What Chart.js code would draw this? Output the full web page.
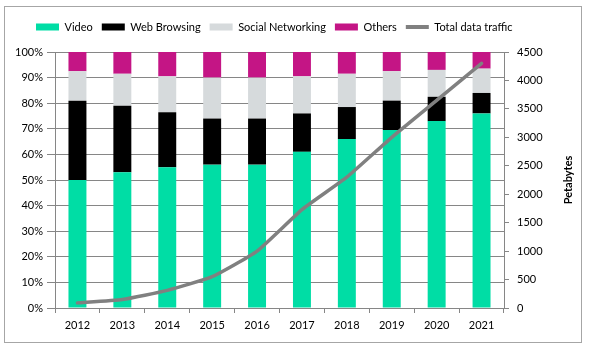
<!DOCTYPE html>
<html>
<head>
<meta charset="utf-8">
<title>Mobile data traffic by application</title>
<script src="https://cdn.jsdelivr.net/npm/chart.js@4/dist/chart.umd.min.js"></script>
<style>
  body { margin: 0; background: #ffffff; }
  canvas { display: block; }
</style>
</head>
<body>
<canvas id="trafficChart" width="589" height="352"></canvas>
<script>
// Data
const years = ['2012', '2013', '2014', '2015', '2016', '2017', '2018', '2019', '2020', '2021'];
const video = [50, 53, 55, 56, 56, 61, 66, 69.5, 73, 76];
const webBrowsing = [31, 26, 21.5, 18, 18, 15, 12.5, 11.5, 9.5, 8];
const socialNetworking = [11.5, 12.5, 14, 16, 16, 14.5, 13, 11.5, 10.5, 9.5];
const others = [7.5, 8.5, 9.5, 10, 10, 9.5, 8.5, 7.5, 7, 6.5];
const totalTraffic = [90, 150, 310, 550, 1000, 1730, 2300, 3000, 3650, 4300]; // petabytes

const percentTicks = [0, 10, 20, 30, 40, 50, 60, 70, 80, 90, 100];
const petabyteTicks = [0, 500, 1000, 1500, 2000, 2500, 3000, 3500, 4000, 4500];

const FONT = 'Lato, "Open Sans", sans-serif';
const GRID = '#868686';

// Outer frame and the right-hand axis title (reads bottom to top)
const framePlugin = {
  id: 'frame',
  beforeDraw(chart) {
    const ctx = chart.ctx;
    ctx.save();
    ctx.fillStyle = '#ffffff';
    ctx.fillRect(0, 0, chart.width, chart.height);
    ctx.strokeStyle = '#a6a6a6';
    ctx.lineWidth = 1;
    ctx.strokeRect(4.5, 6.5, 577, 336);
    ctx.restore();
  },
  afterDraw(chart) {
    const ctx = chart.ctx;
    const area = chart.chartArea;
    ctx.save();
    ctx.translate(568, (area.top + area.bottom) / 2);
    ctx.rotate(-Math.PI / 2);
    ctx.font = 'bold 11px ' + FONT;
    ctx.fillStyle = '#000000';
    ctx.textAlign = 'center';
    ctx.textBaseline = 'middle';
    ctx.fillText('Petabytes', 0, 0);
    ctx.restore();
  }
};

// Keep the legend box a fixed height and start it where the reference does
const legendPlugin = {
  id: 'legendPlace',
  afterInit(chart) {
    const legend = chart.legend;
    const origFit = legend.fit;
    legend.fit = function () {
      origFit.call(this);
      this.height = 41.5;
    };
  },
  afterLayout(chart) {
    const legend = chart.legend;
    const w = legend.right - legend.left;
    legend.left = 27;
    legend.right = 27 + w;
    legend.top = 12.5;
  }
};

const ctx = document.getElementById('trafficChart').getContext('2d');
new Chart(ctx, {
  data: {
    labels: years,
    datasets: [
      { type: 'bar', label: 'Video', data: video, backgroundColor: '#00dda5', order: 1 },
      { type: 'bar', label: 'Web Browsing', data: webBrowsing, backgroundColor: '#000000', order: 1 },
      { type: 'bar', label: 'Social Networking', data: socialNetworking, backgroundColor: '#d6dadc', order: 1 },
      { type: 'bar', label: 'Others', data: others, backgroundColor: '#c41585', order: 1 },
      {
        type: 'line',
        label: 'Total data traffic',
        data: totalTraffic,
        yAxisID: 'y1',
        borderColor: '#808080',
        backgroundColor: '#808080',
        borderWidth: 3.5,
        borderCapStyle: 'round',
        pointRadius: 0,
        tension: 0.15,
        fill: false,
        order: 0
      }
    ]
  },
  options: {
    responsive: false,
    animation: false,
    devicePixelRatio: 1,
    layout: { padding: { top: 10.5, left: 0, right: 0, bottom: 0 } },
    datasets: {
      bar: { barPercentage: 0.4, categoryPercentage: 1 }
    },
    plugins: {
      tooltip: { enabled: false },
      legend: {
        position: 'top',
        align: 'start',
        labels: {
          usePointStyle: true,
          pointStyleWidth: 23,
          boxHeight: 7,
          padding: 9,
          color: '#000000',
          font: { family: FONT, size: 11 },
          // legend in dataset order, line item drawn as a line
          generateLabels: (chart) => chart.data.datasets.map((ds, i) => ({
            text: ds.label,
            fillStyle: ds.type === 'line' ? ds.borderColor : ds.backgroundColor,
            strokeStyle: ds.type === 'line' ? ds.borderColor : ds.backgroundColor,
            lineWidth: ds.type === 'line' ? 4 : 0,
            pointStyle: ds.type === 'line' ? 'line' : 'rect',
            fontColor: '#000000',
            hidden: false,
            datasetIndex: i
          }))
        }
      }
    },
    scales: {
      x: {
        stacked: true,
        offset: true,
        grid: { display: true, offset: true, drawOnChartArea: false, drawTicks: true, tickLength: 5, color: GRID },
        border: { display: true, color: GRID },
        ticks: { color: '#000000', font: { family: FONT, size: 11 }, padding: 6, maxRotation: 0 },
        afterFit: (scale) => { scale.height = 44; }
      },
      y: {
        stacked: true,
        position: 'left',
        min: 0,
        max: 100,
        afterBuildTicks: (scale) => { scale.ticks = percentTicks.map(v => ({ value: v })); },
        grid: { color: GRID, tickLength: 8 },
        border: { display: true, color: GRID },
        ticks: {
          color: '#000000',
          font: { family: FONT, size: 11 },
          padding: 4,
          callback: (v) => v + '%'
        },
        afterFit: (scale) => { scale.width = 55; }
      },
      y1: {
        position: 'right',
        min: 0,
        max: 4500,
        afterBuildTicks: (scale) => { scale.ticks = petabyteTicks.map(v => ({ value: v })); },
        grid: { drawOnChartArea: false, tickLength: 5, color: GRID },
        border: { display: true, color: GRID },
        ticks: {
          color: '#000000',
          font: { family: FONT, size: 11 },
          padding: 8,
          callback: (v) => String(v) // plain numbers, no thousands separator
        },
        afterFit: (scale) => { scale.width = 85; }
      }
    }
  },
  plugins: [framePlugin, legendPlugin]
});
</script>
</body>
</html>
